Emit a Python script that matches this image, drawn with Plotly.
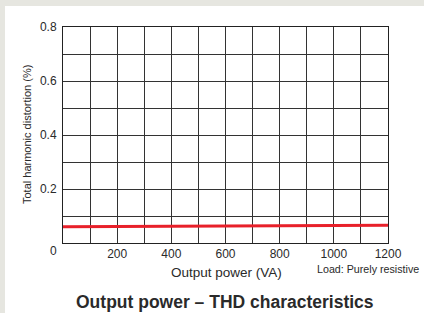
import plotly.graph_objects as go

# Data
power_va = [0, 1200]
thd_pct = [0.060, 0.066]

x_tick_vals = [0, 100, 200, 300, 400, 500, 600, 700, 800, 900, 1000, 1100, 1200]
x_tick_text = ["", "", "200", "", "400", "", "600", "", "800", "", "1000", "", "1200"]
y_tick_vals = [0, 0.1, 0.2, 0.3, 0.4, 0.5, 0.6, 0.7, 0.8]
y_tick_text = ["", "", "0.2", "", "0.4", "", "0.6", "", "0.8"]

W, H = 424, 313
L, R, T, B = 63, 36, 27, 70
pw, ph = W - L - R, H - T - B

def px(x):
    return (x - L) / pw

def py(y):
    return (H - B - y) / ph

font = "Liberation Sans, Arial, sans-serif"
tc = "#2a2a2a"

fig = go.Figure()
fig.add_trace(go.Scatter(x=power_va, y=thd_pct, mode="lines",
                         line=dict(color="#e8202a", width=3), hoverinfo="skip"))

axis_common = dict(showline=True, linecolor="#222", linewidth=1, mirror=True,
                   showgrid=True, gridcolor="#333", gridwidth=1, zeroline=False,
                   ticks="", tickfont=dict(family=font, size=12, color=tc))

fig.update_xaxes(range=[0, 1200], tickmode="array", tickvals=x_tick_vals,
                 ticktext=x_tick_text, ticklabelstandoff=0, **axis_common)
fig.update_yaxes(range=[0, 0.8], tickmode="array", tickvals=y_tick_vals,
                 ticktext=y_tick_text, ticklabelstandoff=3, **axis_common)

annotations = [
    dict(x=px(53), y=py(251), text="0", showarrow=False, xanchor="center", yanchor="middle",
         font=dict(family=font, size=12, color=tc)),
    dict(x=px(27), y=0.5, text="Total harmonic distortion (%)", textangle=-90, showarrow=False,
         xanchor="center", yanchor="middle", font=dict(family=font, size=11, color=tc)),
    dict(x=px(226.5), y=py(272), text="Output power (VA)", showarrow=False,
         xanchor="center", yanchor="middle", font=dict(family=font, size=13.5, color=tc)),
    dict(x=px(421), y=py(269), text="Load: Purely resistive", showarrow=False,
         xanchor="right", yanchor="middle", font=dict(family=font, size=10.7, color=tc)),
    dict(x=px(225), y=py(302), text="<b>Output power – THD characteristics</b>", showarrow=False,
         xanchor="center", yanchor="middle", font=dict(family=font, size=17.5, color=tc)),
]
for a in annotations:
    a.update(xref="paper", yref="paper")

fig.update_layout(
    width=W, height=H,
    margin=dict(l=L, r=R, t=T, b=B, pad=0),
    paper_bgcolor="#e6e6e0", plot_bgcolor="white",
    showlegend=False,
    annotations=annotations,
    shapes=[dict(type="rect", xref="paper", yref="paper", layer="below",
                 x0=px(5), x1=px(W + 2), y0=py(H + 2), y1=py(6),
                 fillcolor="white", line=dict(width=0))],
)

fig.write_html("out.html", config={"displayModeBar": False, "staticPlot": True})

# remove default page margin so the figure fills the window exactly
with open("out.html", encoding="utf-8") as f:
    html = f.read()
html = html.replace("<head>", "<head><style>html,body{margin:0;padding:0;overflow:hidden;}</style>", 1)
with open("out.html", "w", encoding="utf-8") as f:
    f.write(html)
